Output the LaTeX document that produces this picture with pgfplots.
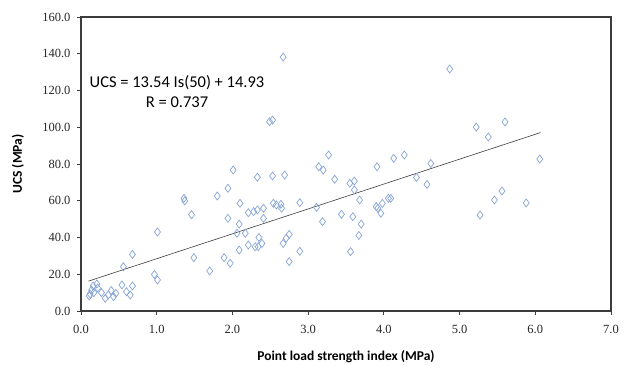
\documentclass[border=0pt]{standalone}
\usepackage{pgfplots}
\pgfplotsset{compat=1.18}
\usepackage{fontspec}
\setmainfont{Liberation Serif}
\newfontfamily\calfont{Carlito}
\definecolor{pt}{RGB}{135,165,212}
\definecolor{ax}{RGB}{60,60,60}
\begin{document}
\begin{tikzpicture}
\begin{axis}[
  scale only axis, width=530pt, height=294pt,
  at={(0,0)}, anchor=south west,
  xmin=0, xmax=7, ymin=0, ymax=160,
  xtick={0,1,...,7}, ytick={0,20,...,160},
  tick align=outside, tick pos=left, major tick length=4pt,
  axis line style={ax, line width=1.1pt}, tick style={ax, line width=0.8pt},
  /pgf/number format/assume math mode=true,
  /pgf/number format/fixed, /pgf/number format/fixed zerofill, /pgf/number format/precision=1,
  ticklabel style={font=\fontsize{12.5}{14}\selectfont, text=black!85},
  xticklabel style={yshift=-7pt},
  yticklabel style={xshift=-3pt},
  xlabel={\calfont\bfseries Point load strength index (MPa)},
  ylabel={\calfont\bfseries UCS (MPa)},
  xlabel style={font=\fontsize{13.5}{15}\selectfont, at={(axis description cs:0.5,0)}, anchor=base, yshift=-49pt},
  ylabel style={font=\fontsize{13.5}{15}\selectfont, at={(axis description cs:0,0.5)}, anchor=center, yshift=63pt},
  clip=false,
]
\addplot[only marks, mark=diamond, mark size=4pt, mark options={draw=pt, line width=0.7pt, fill=none}] table {
x y
0.11 8.2
0.12 9.3
0.14 11.4
0.16 13.6
0.17 10.0
0.21 14.7
0.22 12.5
0.27 10.0
0.32 6.9
0.36 8.7
0.40 11.1
0.43 7.8
0.46 9.6
0.54 14.2
0.56 24.1
0.60 10.5
0.65 8.7
0.68 13.6
0.68 30.8
0.97 19.9
1.01 16.9
1.01 43.0
1.36 61.3
1.37 59.9
1.46 52.4
1.49 29.0
1.70 21.8
1.80 62.6
1.89 29.0
1.94 66.8
1.94 50.4
1.97 26.0
2.01 76.7
2.06 42.3
2.09 47.3
2.09 33.2
2.10 58.6
2.17 42.3
2.21 53.5
2.21 35.9
2.28 54.1
2.30 35.0
2.33 55.0
2.33 72.8
2.34 35.0
2.35 40.0
2.39 36.8
2.41 55.9
2.41 50.4
2.49 103.0
2.53 103.9
2.53 73.5
2.54 58.6
2.58 57.7
2.64 58.1
2.65 55.9
2.67 138.2
2.67 36.8
2.69 74.0
2.71 39.6
2.75 41.7
2.75 26.9
2.89 59.0
2.89 32.5
3.11 56.4
3.14 78.5
3.19 48.6
3.20 76.7
3.27 84.9
3.35 71.7
3.44 52.6
3.55 69.5
3.59 51.3
3.61 70.7
3.61 65.9
3.67 41.1
3.68 60.4
3.70 47.3
3.56 32.3
3.90 56.8
3.92 55.9
3.91 78.5
3.96 53.2
3.98 58.6
4.06 61.3
4.09 61.3
4.13 83.1
4.27 84.9
4.43 72.7
4.57 68.9
4.62 80.3
4.87 131.7
5.22 100.1
5.27 52.2
5.38 94.7
5.46 60.4
5.56 65.3
5.60 102.9
5.88 58.8
6.06 82.7
};
\addplot[ax, line width=0.6pt] coordinates {(0.1,16.28) (6.07,97.12)};
\node[font=\calfont\fontsize{16.5}{20}\selectfont, align=center, anchor=center] at (axis cs:1.268,119.5) {UCS = 13.54 Is(50) + 14.93\\R = 0.737};
\end{axis}
\pgfresetboundingbox
\useasboundingbox (-81pt,-54pt) rectangle (545pt,311pt);
\end{tikzpicture}
\end{document}
